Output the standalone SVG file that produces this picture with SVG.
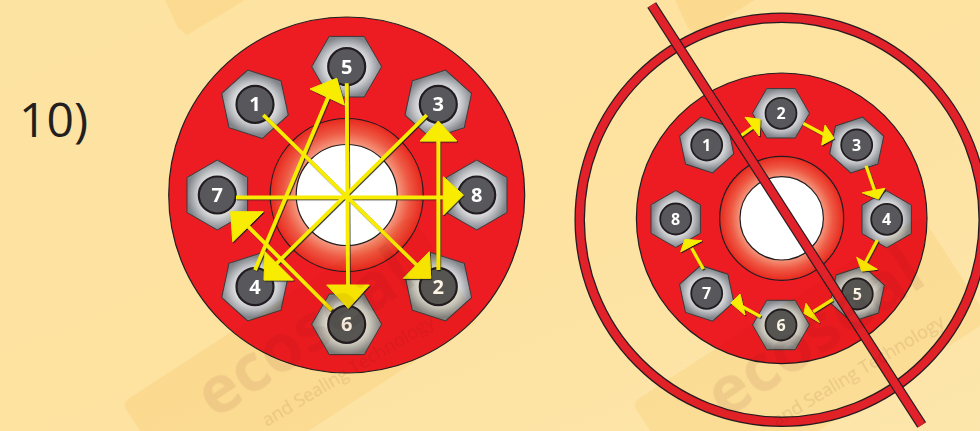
<svg xmlns="http://www.w3.org/2000/svg" xmlns:xlink="http://www.w3.org/1999/xlink" width="980" height="431" viewBox="0 0 980 431">
<defs>
<linearGradient id="bg" x1="0" y1="0" x2="1" y2="1"><stop offset="0" stop-color="#fde3a2"/><stop offset="0.5" stop-color="#fde2a0"/><stop offset="1" stop-color="#fde6ab"/></linearGradient>
<radialGradient id="ringL"><stop offset="0.66" stop-color="#f59a80"/><stop offset="0.82" stop-color="#ee5a44"/><stop offset="1" stop-color="#e8281f"/></radialGradient>
<radialGradient id="hexFill"><stop offset="0.5" stop-color="#ececec"/><stop offset="0.72" stop-color="#bfc1c5"/><stop offset="1" stop-color="#808388"/></radialGradient>
<polygon id="hexL" points="35,0 17.5,30.3 -17.5,30.3 -35,0 -17.5,-30.3 17.5,-30.3" fill="url(#hexFill)" stroke="#3a3a3a" stroke-width="1"/>
<polygon id="hexR" points="28.5,0 14.25,24.7 -14.25,24.7 -28.5,0 -14.25,-24.7 14.25,-24.7" fill="url(#hexFill)" stroke="#3a3a3a" stroke-width="1"/>
<filter id="soft" x="-5%" y="-5%" width="110%" height="110%"><feGaussianBlur stdDeviation="0.45"/></filter>
<filter id="shade" x="-10%" y="-10%" width="120%" height="120%"><feDropShadow dx="0.9" dy="1.1" stdDeviation="0.3" flood-color="#1a1a1a" flood-opacity="0.9"/></filter>
<g id="wm">
<rect x="0" y="0" width="345" height="125" rx="8" transform="translate(122,403) rotate(-33)" class="band"/>
<polygon points="165,0 178,28 187,35 245,0" class="band"/>
<text x="215" y="420" transform="rotate(-34 215 420)" class="wm-big">ecoseal</text>
<text x="267" y="427" transform="rotate(-31 267 427)" class="wm-small">and Sealing Technology</text>
</g>
</defs>
<style>
.disc{fill:#ec1c24;stroke:#231f20;stroke-width:1.2}
.ring{fill:url(#ringL);stroke:#231f20;stroke-width:1.2}
.hole{fill:#fff;stroke:#231f20;stroke-width:1.2}
.nutL{fill:#58595b;stroke:#231f20;stroke-width:2.2}
.nutR{fill:#58595b;stroke:#231f20;stroke-width:1.8}
.numL{font:700 20px "Open Sans","Liberation Sans",sans-serif;fill:#fff;text-anchor:middle}
.numR{font:700 16px "Open Sans","Liberation Sans",sans-serif;fill:#fff;text-anchor:middle}
.lnL{stroke:#f8ec00;stroke-width:3.8;fill:none}
.lnR{stroke:#f8ec00;stroke-width:3.2;fill:none}
.hd{fill:#f8ec00;stroke:#f8ec00;stroke-width:1;stroke-linejoin:round}
.band{fill:#fdf6e4;mix-blend-mode:multiply}
.wm-big{font:700 66px "Open Sans","Liberation Sans",sans-serif;fill:#f3ecec;mix-blend-mode:multiply}
.wm-small{font:400 18px "Open Sans","Liberation Sans",sans-serif;fill:#eee6e0;mix-blend-mode:multiply}
.title{font:400 48px "Open Sans","Liberation Sans",sans-serif;fill:#231f20}
</style>
<rect width="980" height="431" fill="url(#bg)"/>
<text class="title" x="19" y="137">10)</text>
<g filter="url(#soft)">
<g id="flange-left">
<circle class="disc" cx="346.7" cy="195" r="178"/>
<circle class="ring" cx="346.7" cy="195" r="76.5"/>
<circle class="hole" cx="346.7" cy="195" r="50.5"/>
</g>
<g id="L1" transform="translate(255,104.3)"><use xlink:href="#hexL" href="#hexL" transform="rotate(18)"/><circle class="nutL" r="18.5"/><text class="numL" y="7">1</text></g>
<g id="L2" transform="translate(438.3,286.7)"><use xlink:href="#hexL" href="#hexL" transform="rotate(18)"/><circle class="nutL" r="18.5"/><text class="numL" y="7">2</text></g>
<g id="L3" transform="translate(438.3,104.3)"><use xlink:href="#hexL" href="#hexL" transform="rotate(-18)"/><circle class="nutL" r="18.5"/><text class="numL" y="7">3</text></g>
<g id="L4" transform="translate(255,286.7)"><use xlink:href="#hexL" href="#hexL" transform="rotate(-18)"/><circle class="nutL" r="18.5"/><text class="numL" y="7">4</text></g>
<g id="L5" transform="translate(346.7,66.7)"><use xlink:href="#hexL" href="#hexL"/><circle class="nutL" r="18.5"/><text class="numL" y="7">5</text></g>
<g id="L6" transform="translate(346.7,324.3)"><use xlink:href="#hexL" href="#hexL"/><circle class="nutL" r="18.5"/><text class="numL" y="7">6</text></g>
<g id="L7" transform="translate(217.3,195)"><use xlink:href="#hexL" href="#hexL" transform="rotate(90)"/><circle class="nutL" r="18.5"/><text class="numL" y="7">7</text></g>
<g id="L8" transform="translate(476.7,195)"><use xlink:href="#hexL" href="#hexL" transform="rotate(90)"/><circle class="nutL" r="18.5"/><text class="numL" y="7">8</text></g>
<g id="connectors-left" filter="url(#shade)">
<path class="lnL" d="M263.3,115 L416.7,265"/><polygon class="hd" points="429.3,251.7 430.7,278.3 403.3,278.3"/>
<path class="lnL" d="M438.3,270 L438.3,138.3"/><polygon class="hd" points="438.3,121 420,141 456.7,141"/>
<path class="lnL" d="M426.7,115 L275,265"/><polygon class="hd" points="265,251.7 264,280 293.3,280"/>
<path class="lnL" d="M255,270 L328.3,96.7"/><polygon class="hd" points="310,89 336.7,78.3 344.3,105"/>
<path class="lnL" d="M346.7,83.3 L348,290"/><polygon class="hd" points="326.7,285 369.3,285 348.3,308.3"/>
<path class="lnL" d="M331.7,310 L248.3,226.7"/><polygon class="hd" points="230.7,211.7 263.3,211.7 232.7,241.7"/>
<path class="lnL" d="M236,197.3 L443.3,197.3"/><polygon class="hd" points="443.3,176.7 463.3,195 443.3,215"/>
</g>
<g id="flange-right">
<circle class="disc" cx="781.7" cy="218.3" r="145.3"/>
<circle class="ring" cx="781.7" cy="218.3" r="62"/>
<circle class="hole" cx="781.7" cy="218.3" r="41.7"/>
</g>
<g id="R1" transform="translate(706.7,145)"><use xlink:href="#hexR" href="#hexR" transform="rotate(18)"/><circle class="nutR" r="15.5"/><text class="numR" y="6">1</text></g>
<g id="R2" transform="translate(781,113.3)"><use xlink:href="#hexR" href="#hexR"/><circle class="nutR" r="15.5"/><text class="numR" y="6">2</text></g>
<g id="R3" transform="translate(856.7,145)"><use xlink:href="#hexR" href="#hexR" transform="rotate(-18)"/><circle class="nutR" r="15.5"/><text class="numR" y="6">3</text></g>
<g id="R4" transform="translate(886.7,219.3)"><use xlink:href="#hexR" href="#hexR" transform="rotate(90)"/><circle class="nutR" r="15.5"/><text class="numR" y="6">4</text></g>
<g id="R5" transform="translate(857.3,294)"><use xlink:href="#hexR" href="#hexR" transform="rotate(-18)"/><circle class="nutR" r="15.5"/><text class="numR" y="6">5</text></g>
<g id="R6" transform="translate(781,325)"><use xlink:href="#hexR" href="#hexR"/><circle class="nutR" r="15.5"/><text class="numR" y="6">6</text></g>
<g id="R7" transform="translate(706.7,293.3)"><use xlink:href="#hexR" href="#hexR" transform="rotate(18)"/><circle class="nutR" r="15.5"/><text class="numR" y="6">7</text></g>
<g id="R8" transform="translate(675.7,219)"><use xlink:href="#hexR" href="#hexR" transform="rotate(90)"/><circle class="nutR" r="15.5"/><text class="numR" y="6">8</text></g>
<g id="connectors-right" filter="url(#shade)">
<path class="lnR" d="M740.7,135.7 L753.3,126.7"/><polygon class="hd" points="745,117.3 760,119.3 759.3,136"/>
<path class="lnR" d="M803.3,123.3 L825,135"/><polygon class="hd" points="825,125 834,138.3 821.7,145"/>
<path class="lnR" d="M866,165.7 L875,191.7"/><polygon class="hd" points="862.3,192.7 885,188.3 878.3,199"/>
<path class="lnR" d="M877.3,240 L865,263.3"/><polygon class="hd" points="856.7,257.3 877.3,269.3 861.7,271"/>
<path class="lnR" d="M832.7,299.3 L813.3,311.7"/><polygon class="hd" points="806,303.3 819.3,322.3 804,313.3"/>
<path class="lnR" d="M760.7,316.7 L738.3,304.3"/><polygon class="hd" points="740,294 745,315 731,303"/>
<path class="lnR" d="M703.3,269 L691.7,248.3"/><polygon class="hd" points="680.7,251.7 701.7,240.7 685,239.3"/>
</g>
<g id="prohibition">
<circle cx="781.7" cy="219.7" r="202" fill="none" stroke="#231f20" stroke-width="10.5"/>
<circle cx="781.7" cy="219.7" r="202" fill="none" stroke="#e2202c" stroke-width="8"/>
<path d="M651.7,5 L921.7,425" fill="none" stroke="#231f20" stroke-width="10.5"/>
<path d="M651.7,5 L921.7,425" fill="none" stroke="#e2202c" stroke-width="8"/>
</g>
</g>
<g id="watermarks">
<use xlink:href="#wm" href="#wm"/>
<use xlink:href="#wm" href="#wm" transform="translate(510,0)"/>
</g>
</svg>
